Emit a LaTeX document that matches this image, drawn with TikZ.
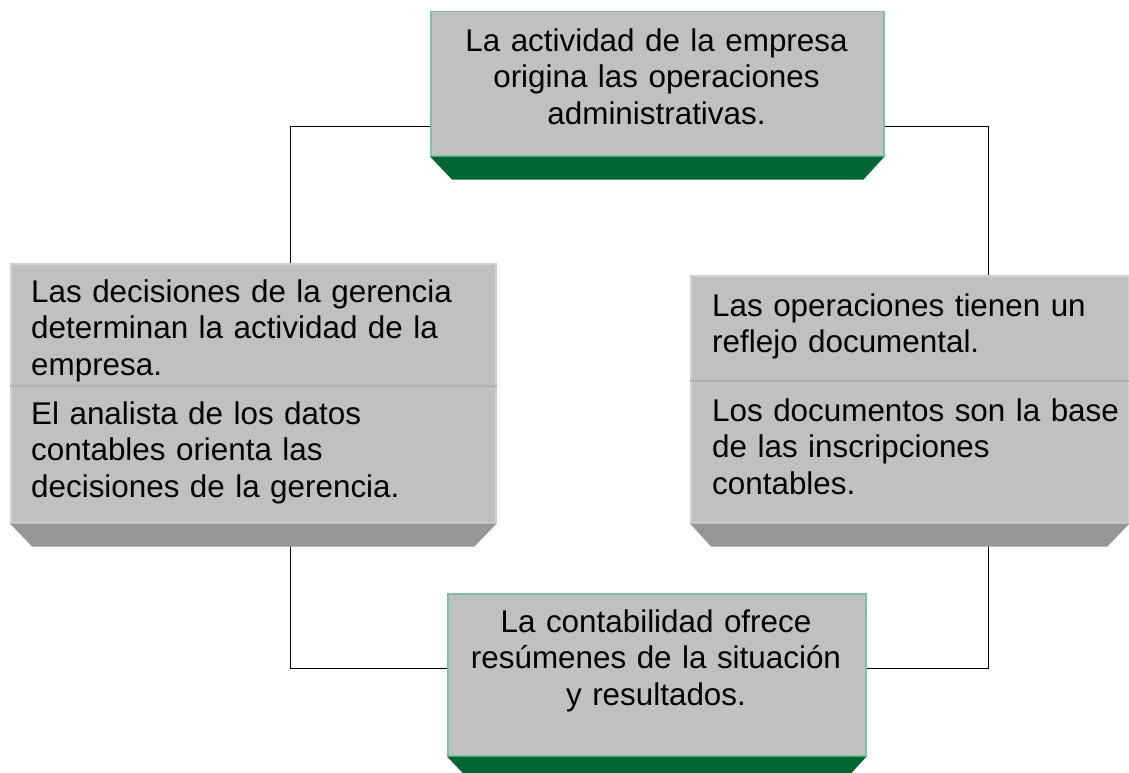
\documentclass[tikz,border=0pt]{standalone}
\usepackage{fontspec}
\setmainfont{Liberation Sans}
\usetikzlibrary{calc}
\pgfdeclarelayer{bg}
\pgfsetlayers{bg,main}
\definecolor{boxgray}{HTML}{C0C0C0}
\definecolor{shadegray}{HTML}{969696}
\definecolor{darkgreen}{HTML}{006633}
\definecolor{lightgreen}{HTML}{7DC29E}
\definecolor{edgegray}{HTML}{D0D0D0}
\definecolor{divgray}{HTML}{B2B2B2}
\begin{document}
\begin{tikzpicture}[x=1pt,y=-1pt,
  greenbox/.style={draw=lightgreen, line width=1.5pt, fill=boxgray, inner sep=0pt, anchor=north west},
  graybox/.style={draw=edgegray, line width=1.5pt, fill=boxgray, inner sep=0pt, anchor=north west},
  txt/.style={font=\fontsize{31.4}{36.5}\selectfont, inner sep=0pt},
  conn/.style={draw=black, line width=1.3pt}]
\useasboundingbox (0,0) rectangle (1129,773);
% boxes
\node[greenbox, minimum width=453pt, minimum height=144pt] (topbox) at (430,11) {};
\node[graybox, minimum width=485pt, minimum height=259pt] (leftbox) at (10,263) {};
\node[graybox, minimum width=438pt, minimum height=247pt] (rightbox) at (690,275) {};
\node[greenbox, minimum width=418pt, minimum height=162pt] (botbox) at (447,593) {};
% bottom bands
\fill[darkgreen] (topbox.south west) -- (topbox.south east) -- ++(-21,23) -- ($(topbox.south west)+(22,23)$) -- cycle;
\fill[shadegray] (leftbox.south west) -- (leftbox.south east) -- ++(-22,23) -- ($(leftbox.south west)+(22,23)$) -- cycle;
\fill[shadegray] (rightbox.south west) -- (rightbox.south east) -- ++(-22,23) -- ($(rightbox.south west)+(21,23)$) -- cycle;
\fill[darkgreen] (botbox.south west) -- (botbox.south east) -- ++(-21,23) -- ($(botbox.south west)+(22,23)$) -- cycle;
% dividers
\draw[divgray, line width=2pt] ([yshift=-123pt]leftbox.north west) -- ([yshift=-123pt]leftbox.north east);
\draw[divgray, line width=2pt] ([yshift=-106pt]rightbox.north west) -- ([yshift=-106pt]rightbox.north east);
% texts
\node[txt, anchor=north, text width=440pt, align=center] (ttop) at (656.5,28.5)
  {La actividad de la empresa\\origina las operaciones\\administrativas.};
\node[txt, anchor=north west, text width=460pt, align=left] (tleft1) at (31,279.5)
  {Las decisiones de la gerencia\\determinan la actividad de la\\empresa.};
\node[txt, anchor=north west, text width=460pt, align=left] (tleft2) at (31,401.5)
  {El analista de los datos\\contables orienta las\\decisiones de la gerencia.};
\node[txt, anchor=north west, text width=440pt, align=left] (tright1) at (712,293.5)
  {Las operaciones tienen un\\reflejo documental.};
\node[txt, anchor=north west, text width=440pt, align=left] (tright2) at (712,398.5)
  {Los documentos son la base\\de las inscripciones\\contables.};
\node[txt, anchor=north, text width=410pt, align=center] (tbot) at (656,609.5)
  {La contabilidad ofrece\\resúmenes de la situación\\y resultados.};
% connectors
\begin{pgfonlayer}{bg}
\draw[conn] ([yshift=30pt]topbox.south west) -| ([xshift=37.5pt]leftbox.north);
\draw[conn] ([yshift=30pt]topbox.south east) -| ([xshift=79pt]rightbox.north);
\draw[conn] ([xshift=37.5pt]leftbox.south) |- ([yshift=6pt]botbox.west);
\draw[conn] ([xshift=79pt]rightbox.south) |- ([yshift=6pt]botbox.east);
\end{pgfonlayer}
\end{tikzpicture}
\end{document}
